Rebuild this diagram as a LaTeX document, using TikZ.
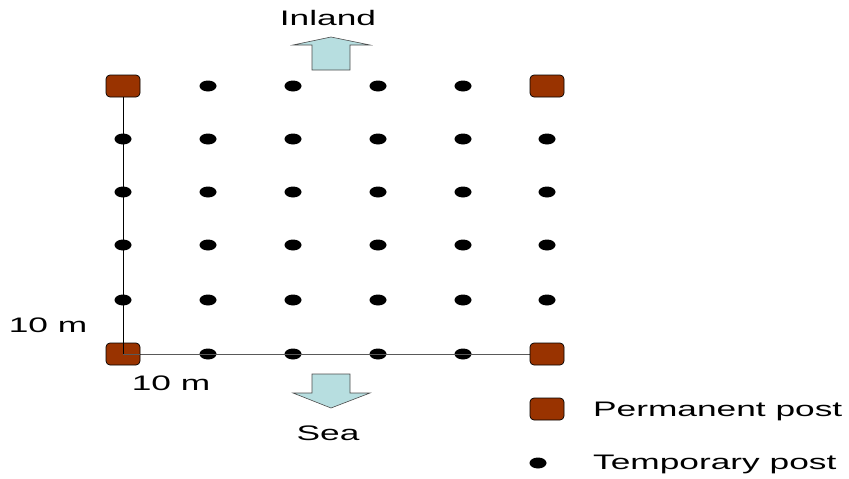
\documentclass[tikz,border=0pt]{standalone}
\usepackage{fontspec}
\setmainfont{Liberation Sans}
\newfontfamily\wide[FakeStretch=1.68]{Liberation Sans}
\usetikzlibrary{shapes.geometric}
\definecolor{permbrown}{RGB}{153,51,0}
\definecolor{arrowfill}{RGB}{183,222,224}
\tikzset{
  permpost/.style={draw=black, fill=permbrown, rounded corners=4pt, minimum width=34pt, minimum height=22pt, inner sep=0pt, line width=0.7pt},
  temppost/.style={ellipse, fill=black, minimum width=17pt, minimum height=11pt, inner sep=0pt},
  lbl/.style={font=\wide\fontsize{21pt}{24pt}\selectfont, inner sep=0pt},
  bigarrow/.style={draw=black!70, fill=arrowfill, line width=0.6pt, line join=miter}
}
\begin{document}
\begin{tikzpicture}[x=1pt,y=-1pt]
\useasboundingbox (0,0) rectangle (849,479);
% grid of posts
\foreach \c/\x in {1/123,2/208,3/293,4/378,5/463,6/547}{
  \foreach \r/\y in {1/86,2/139,3/192,4/245,5/300,6/354}{
    \node[temppost] (p-\r-\c) at (\x,\y) {};
  }
}
% lines
\draw[black, line width=0.8pt] (p-1-1.center) -- (p-6-1.center);
\draw[black!65, line width=0.8pt] (p-6-1.center) -- (p-6-6.center);
% permanent posts at corners
\node[permpost] (tl) at (123,86) {};
\node[permpost] (tr) at (547,86) {};
\node[permpost] (bl) at (123,354) {};
\node[permpost] (br) at (547,354) {};
\draw[black, line width=0.8pt] (tl.south) -- (bl.center);
\draw[black!65, line width=0.8pt] (bl.center) -- (bl.east);
% arrows
\draw[bigarrow] (312,70) -- (312,45) -- (293,45) -- (331,37) -- (370,45) -- (350,45) -- (350,70) -- cycle;
\draw[bigarrow] (312,374) -- (350,374) -- (350,393) -- (370,393) -- (331,408) -- (293,393) -- (312,393) -- cycle;
% labels
\node[lbl] (inland) at (328,18) {Inland};
\node[lbl] (sea) at (328,433) {Sea};
\node[lbl] (dimv) at (48,325) {10 m};
\node[lbl] (dimh) at (171,383) {10 m};
% legend
\node[permpost] (legperm) at (547,409) {};
\node[lbl, anchor=west] (legpermtxt) at (593,411) {Permanent post};
\node[temppost] (legtemp) at (538,463) {};
\node[lbl, anchor=west] (legtemptxt) at (593,464) {Temporary post};
\end{tikzpicture}
\end{document}
